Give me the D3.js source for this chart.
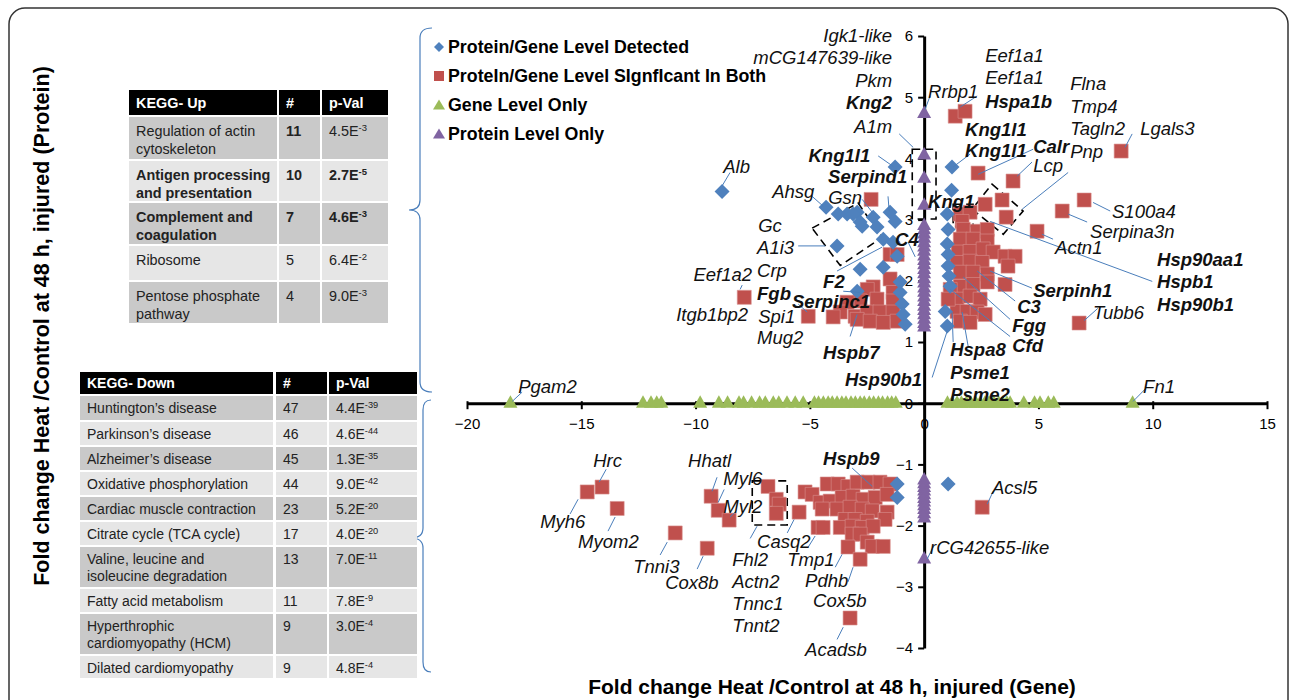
<!DOCTYPE html>
<html><head><meta charset="utf-8">
<script src="https://cdn.jsdelivr.net/npm/d3@7"></script>
<style>
body{margin:0;background:#fff}
svg{display:block}
text{font-family:"Liberation Sans",Arial,Helvetica,sans-serif}
</style>
</head><body>
<svg id="c" width="1295" height="700"></svg>
<script>
// ---------------- DATA ----------------
const seriesNames = ["Protein/Gene Level Detected","ProteIn/Gene Level SIgnfIcant In Both","Gene Level Only","Protein Level Only"];

// Protein/Gene level detected (x = gene FC, y = protein FC)
const detected = [[-8.84,3.46],[-4.29,3.20],[-1.27,3.86],[1.22,3.86],[1.20,3.48],[-3.37,3.09],[-2.93,3.12],[-2.71,2.89],[-2.23,3.04],[-2.06,2.88],[-1.49,3.12],[-1.27,2.97],[-1.79,2.68],[-3.76,3.09],[-3.11,3.09],[-2.80,2.96],[-3.81,2.57],[-1.36,2.63],[-2.80,2.19],[-1.79,2.22],[-1.18,2.40],[-2.93,1.83],[-1.05,1.98],[-1.05,1.81],[-0.96,1.62],[-0.92,1.45],[-0.83,1.29],[1.01,3.09],[1.05,2.84],[1.01,2.60],[1.05,2.43],[1.05,2.24],[1.09,2.08],[1.14,1.91],[0.92,1.50],[1.01,1.26],[-1.18,-1.32],[-1.18,-1.54],[1.05,-1.32]];

// Significant in both
const significant = [[1.36,4.69],[1.79,4.77],[2.36,3.76],[3.89,3.63],[8.62,4.12],[7.00,3.32],[6.04,3.14],[4.94,2.81],[6.78,1.31],[3.41,3.32],[2.67,3.25],[3.59,3.04],[1.58,3.09],[2.01,3.12],[1.66,2.97],[1.71,2.84],[2.32,2.81],[2.76,2.84],[1.58,2.68],[2.14,2.68],[2.76,2.65],[1.49,2.47],[2.01,2.48],[2.58,2.52],[3.02,2.47],[1.44,2.30],[2.01,2.32],[2.54,2.30],[3.54,2.40],[3.98,2.40],[3.67,2.24],[1.58,2.14],[2.14,2.14],[2.76,2.11],[1.58,1.91],[2.14,1.94],[2.76,1.98],[3.54,1.94],[1.14,1.86],[1.44,1.70],[2.01,1.75],[2.45,1.70],[1.44,1.50],[1.88,1.50],[2.32,1.49],[2.67,1.45],[1.58,1.34],[2.01,1.32],[1.05,1.70],
[-2.32,3.33],[-1.49,2.43],[-1.18,2.43],[-1.49,2.03],[-2.23,1.90],[-2.49,1.86],[-1.36,1.81],[-2.06,1.70],[-1.36,1.67],[-2.80,1.67],[-3.37,1.65],[-3.67,1.49],[-3.02,1.42],[-2.49,1.49],[-1.93,1.49],[-1.36,1.49],[-3.98,1.41],[-2.93,1.37],[-2.36,1.34],[-1.79,1.32],[-1.18,1.34],[-7.87,1.73],[-5.07,1.42],
[-14.74,-1.45],[-14.09,-1.37],[-13.43,-1.72],[-10.89,-2.12],[-9.49,-2.37],[-9.32,-1.52],[-9.01,-1.75],[-8.53,-1.91],[-6.83,-1.36],[-6.47,-1.57],[-6.34,-1.65],[-6.47,-1.80],[-5.47,-1.78],[-5.21,-1.45],[-4.90,-1.49],[-4.64,-2.03],[-4.24,-1.32],[-3.76,-1.32],[-3.33,-1.36],[-2.93,-1.29],[-2.45,-1.29],[-1.93,-1.29],[-1.49,-1.32],[-4.55,-1.62],[-4.11,-1.60],[-3.59,-1.54],[-3.11,-1.52],[-2.67,-1.57],[-2.14,-1.54],[-1.62,-1.49],[-4.46,-1.73],[-3.81,-1.73],[-3.24,-1.70],[-2.71,-1.73],[-2.27,-1.76],[-1.62,-1.78],[-3.46,-1.90],[-3.02,-1.90],[-2.49,-1.93],[-1.71,-1.90],[-4.42,-2.03],[-3.67,-2.03],[-3.15,-2.01],[-2.71,-2.03],[-2.23,-2.01],[-3.15,-2.14],[-2.80,-2.14],[-2.49,-2.27],[-2.27,-2.34],[-1.79,-2.34],[-3.33,-2.35],[-2.80,-2.55],[-3.24,-3.51],[2.54,-1.70]];

// Gene level only (protein FC = 0)
const geneOnly = [-18.1,-12.3,-11.95,-11.7,-11.5,-9.8,-8.98,-8.6,-8.1,-7.9,-7.55,-7.2,-6.95,-6.6,-6.36,-6.0,-5.64,-5.29,-4.8,-4.62,-4.41,-4.2,-4.02,-3.81,-3.6,-3.42,-3.2,-3.01,-2.8,-2.62,-2.4,-2.21,-2.0,-1.82,-1.6,-1.42,-1.24,1.02,1.22,1.44,1.63,1.85,2.04,2.26,2.45,2.66,2.84,3.05,3.26,3.44,3.62,3.76,4.36,4.83,5.07,5.43,5.67,9.12];

// Protein level only (gene FC = 0)
const proteinOnly = [4.75,4.07,3.69,3.25,2.92,2.85,2.78,2.71,2.64,2.57,2.5,2.42,2.35,2.28,2.2,2.13,2.05,1.98,1.9,1.83,1.75,1.68,1.6,1.53,1.46,1.39,1.32,1.26,-1.24,-1.3,-1.36,-1.42,-1.48,-1.54,-1.6,-1.66,-1.72,-1.79,-1.86,-2.53];

const xTicks = [-20,-15,-10,-5,0,5,10,15];
const yTicks = [-4,-3,-2,-1,0,1,2,3,4,5,6];

// KEGG tables
const upNames = ["Regulation of actin\ncytoskeleton","Antigen processing\nand presentation","Complement and\ncoagulation","Ribosome","Pentose phosphate\npathway"];
const upCounts = ["11","10","7","5","4"];
const upPval = [["4.5E","-3"],["2.7E","-5"],["4.6E","-3"],["6.4E","-2"],["9.0E","-3"]];
const upBold = [[false,true,false],[true,true,true],[true,true,true],[false,false,false],[false,false,false]];

const downNames = ["Huntington\u2019s disease","Parkinson\u2019s  disease","Alzheimer\u2019s disease","Oxidative phosphorylation","Cardiac muscle contraction","Citrate cycle (TCA cycle)","Valine, leucine and\nisoleucine degradation","Fatty acid metabolism","Hyperthrophic\ncardiomyopathy (HCM)","Dilated cardiomyopathy"];
const downCounts = ["47","46","45","44","23","17","13","11","9","9"];
const downPval = [["4.4E","-39"],["4.6E","-44"],["1.3E","-35"],["9.0E","-42"],["5.2E","-20"],["4.0E","-20"],["7.0E","-11"],["7.8E","-9"],["3.0E","-4"],["4.8E","-4"]];

// Point annotations: [text, x, y, anchor, bold]  (data coordinates)
const annotations = [
 ["Igk1-like",-1.40,6.01,"end",0],["mCG147639-like",-1.40,5.65,"end",0],["Pkm",-1.40,5.28,"end",0],["Kng2",-1.40,4.92,"end",1],["A1m",-1.40,4.53,"end",0],
 ["Kng1l1",-2.36,4.05,"end",1],["Serpind1",-0.74,3.71,"end",1],["Alb",-8.79,3.87,"start",0],["Ahsg",-6.65,3.46,"start",0],["Gsn",-4.20,3.37,"start",0],
 ["Kng1",0.17,3.30,"start",1],["Rrbp1",0.17,5.10,"start",0],["Eef1a1",2.67,5.69,"start",0],["Eef1a1",2.67,5.33,"start",0],["Hspa1b",2.67,4.93,"start",1],
 ["Kng1l1",1.79,4.48,"start",1],["Kng1l1",1.79,4.13,"start",1],["Flna",6.39,5.23,"start",0],["Tmp4",6.39,4.85,"start",0],["Tagln2",6.39,4.49,"start",0],["Pnp",6.39,4.12,"start",0],
 ["Lgals3",9.45,4.49,"start",0],["Calr",4.77,4.20,"start",1],["Lcp",4.77,3.89,"start",0],["S100a4",8.22,3.14,"start",0],["Serpina3n",7.26,2.81,"start",0],["Actn1",5.73,2.55,"start",0],
 ["Hsp90aa1",10.19,2.35,"start",1],["Hspb1",10.19,1.99,"start",1],["Hsp90b1",10.19,1.62,"start",1],["Serpinh1",4.77,1.85,"start",1],["C3",4.07,1.58,"start",1],["Fgg",3.85,1.27,"start",1],["Cfd",3.85,0.95,"start",1],
 ["Tubb6",7.39,1.49,"start",0],["Hspa8",1.14,0.88,"start",1],["Psme1",1.14,0.51,"start",1],["Psme2",1.14,0.15,"start",1],["Hsp90b1",-0.09,0.39,"end",1],
 ["Gc",-7.26,2.91,"start",0],["A1i3",-7.31,2.55,"start",0],["Crp",-7.31,2.17,"start",0],["Fgb",-7.31,1.80,"start",1],["Spi1",-7.26,1.42,"start",0],["Mug2",-7.31,1.08,"start",0],
 ["Eef1a2",-7.53,2.11,"end",0],["Itgb1bp2",-7.70,1.45,"end",0],["Serpinc1",-5.78,1.67,"start",1],["F2",-4.42,1.99,"start",1],["Hspb7",-4.42,0.83,"start",1],["C4",-1.27,2.68,"start",1],
 ["Pgam2",-17.76,0.28,"start",0],["Fn1",9.58,0.28,"start",0],
 ["Hrc",-14.48,-0.93,"start",0],["Myh6",-16.80,-1.93,"start",0],["Myom2",-15.14,-2.25,"start",0],["Tnni3",-12.73,-2.66,"start",0],["Cox8b",-11.33,-2.92,"start",0],
 ["Hhatl",-10.33,-0.93,"start",0],["Myl6",-8.79,-1.23,"start",0],["Myl2",-8.79,-1.68,"start",0],["Fhl2",-8.40,-2.55,"start",0],["Actn2",-8.40,-2.91,"start",0],["Tnnc1",-8.40,-3.27,"start",0],["Tnnt2",-8.40,-3.63,"start",0],
 ["Casq2",-7.31,-2.25,"start",0],["Tmp1",-5.99,-2.55,"start",0],["Pdhb",-5.21,-2.89,"start",0],["Cox5b",-4.86,-3.22,"start",0],["Acadsb",-5.21,-4.02,"start",0],
 ["Hspb9",-4.42,-0.90,"start",1],["Acsl5",2.97,-1.37,"start",0],["rCG42655-like",0.26,-2.35,"start",0]
];

// Leader lines [x1,y1,x2,y2] (data coordinates)
const leaders = [
 [-1.09,4.40,-0.48,4.18],[-2.01,4.04,-1.36,3.87],[-8.49,3.77,-8.84,3.55],[-4.90,3.38,-4.42,3.22],[-2.71,3.33,-2.23,3.10],[-1.58,3.38,-1.53,3.14],
 [0.26,5.02,0.04,4.80],[2.32,5.02,1.58,4.84],[2.01,4.07,1.27,3.86],[4.77,4.15,2.36,3.74],[4.72,3.94,4.07,3.71],[6.30,3.77,4.29,3.17],[9.10,4.40,8.79,4.18],
 [8.14,3.14,7.39,3.28],[7.13,2.96,6.30,3.09],[5.64,2.68,5.16,2.76],[9.98,1.99,2.89,2.97],[4.72,1.88,2.89,2.16],[3.98,1.67,2.32,2.16],[3.76,1.37,1.71,2.06],[3.76,1.09,1.14,1.86],
 [1.93,0.92,1.66,1.49],[1.27,1.00,1.22,1.50],[0.35,0.42,1.01,1.18],[-0.70,2.63,-0.39,2.39],[-3.81,2.16,-1.84,2.55],[-3.54,1.83,-2.80,1.81],[-5.51,1.62,-5.12,1.49],
 [-3.24,1.09,-2.93,1.45],[-5.51,2.57,-4.33,2.57],[-7.96,1.93,-8.05,1.86],[-17.59,0.18,-18.02,0.03],[9.67,0.23,9.14,0.03],[7.60,1.55,7.00,1.35],
 [-13.91,-1.08,-14.22,-1.29],[-15.14,-1.57,-15.49,-1.81],[-13.52,-1.86,-13.83,-2.09],[-11.24,-2.27,-11.55,-2.48],[-9.67,-2.50,-9.93,-2.71],[-9.06,-1.21,-9.28,-1.44],
 [-8.75,-1.41,-9.01,-1.62],[-8.22,-1.76,-8.49,-1.86],[-7.31,-2.01,-7.61,-2.21],[-5.69,-1.90,-5.99,-2.12],[-4.77,-2.17,-5.07,-2.35],[-3.59,-2.47,-3.89,-2.68],
 [-3.11,-2.68,-3.33,-2.92],[-3.54,-3.66,-3.81,-3.86],[-3.15,-1.06,-2.27,-1.36],[3.02,-1.44,2.76,-1.65],[0.39,-2.35,0.13,-2.55]
];

// Dashed highlight outlines (data coordinates, closed polygons)
const dashedShapes = [
 [[-4.90,2.86],[-2.89,3.27],[-1.84,2.71],[-3.67,2.25]],
 [[-0.52,4.15],[0.52,4.15],[0.52,3.01],[-0.52,3.01]],
 [[1.27,3.25],[2.14,3.25],[2.14,2.89],[1.27,2.89]],
 [[2.97,3.58],[4.33,3.14],[3.46,2.76],[2.10,3.17]],
 [[-7.52,-1.27],[-5.99,-1.27],[-5.99,-1.99],[-7.52,-1.99]]
];

// ---------------- DRAW ----------------
const svg = d3.select("#c");
const FONT = '"Liberation Sans",Arial,sans-serif';
const C = {blue:"#4f81bd", red:"#c0504d", green:"#9bbb59", purple:"#8064a2", lead:"#4a7ebb"};

// frame
svg.append("rect").attr("x",9).attr("y",8).attr("width",1279).attr("height",720).attr("rx",16)
  .attr("fill","none").attr("stroke","#333").attr("stroke-width",1.5);

const x = d3.scaleLinear().domain([-20,15]).range([467,1267]);
const y = d3.scaleLinear().domain([-4,6]).range([648,36]);

// marker paths
const sym = {
  diamond: "M0,-7.5L7.5,0L0,7.5L-7.5,0Z",
  square: "M-7,-7H7V7H-7Z",
  tri: "M0,-7L7,5.5L-7,5.5Z"
};

// dashed shapes
svg.append("g").selectAll("path").data(dashedShapes).join("path")
  .attr("d", d => d3.line().x(p=>x(p[0])).y(p=>y(p[1]))(d) + "Z")
  .attr("fill","none").attr("stroke","#000").attr("stroke-width",1.6).attr("stroke-dasharray","8,5");

// series
const g = svg.append("g");
g.selectAll(".sig").data(significant).join("path").attr("class","sig")
  .attr("transform", d=>`translate(${x(d[0])},${y(d[1])})`).attr("d",sym.square)
  .attr("fill",C.red).attr("stroke","#d9908e").attr("stroke-width",0.6);
g.selectAll(".det").data(detected).join("path").attr("class","det")
  .attr("transform", d=>`translate(${x(d[0])},${y(d[1])})`).attr("d",sym.diamond).attr("fill",C.blue);

// axes
const xAxis = d3.axisBottom(x).tickValues(xTicks).tickSizeInner(6).tickSizeOuter(0).tickPadding(9);
const gx = svg.append("g").attr("transform",`translate(0,${y(0)})`).call(xAxis);
gx.select(".domain").attr("stroke","#000").attr("stroke-width",3);
gx.selectAll(".tick line").attr("stroke","#000").attr("stroke-width",2).attr("y1",-2);
gx.selectAll(".tick text").attr("font-size",15).attr("font-family",FONT).attr("fill","#000");

const yAxis = d3.axisLeft(y).tickValues(yTicks).tickSizeInner(6).tickSizeOuter(0).tickPadding(5);
const gy = svg.append("g").attr("transform",`translate(${x(0)},0)`).call(yAxis);
gy.select(".domain").attr("stroke","#000").attr("stroke-width",3);
gy.selectAll(".tick line").attr("stroke","#000").attr("stroke-width",2);
gy.selectAll(".tick text").attr("font-size",15).attr("font-family",FONT).attr("fill","#000");

g.raise();
g.selectAll(".gene").data(geneOnly).join("path").attr("class","gene")
  .attr("transform", d=>`translate(${x(d)},${y(0)-1})`).attr("d",sym.tri).attr("fill",C.green);
g.selectAll(".prot").data(proteinOnly).join("path").attr("class","prot")
  .attr("transform", d=>`translate(${x(0)},${y(d)})`).attr("d",sym.tri).attr("fill",C.purple);

// leader lines
svg.append("g").selectAll("line").data(leaders).join("line")
  .attr("x1",d=>x(d[0])).attr("y1",d=>y(d[1])).attr("x2",d=>x(d[2])).attr("y2",d=>y(d[3]))
  .attr("stroke",C.lead).attr("stroke-width",1);

// annotations
svg.append("g").selectAll("text").data(annotations).join("text")
  .attr("x",d=>x(d[1])).attr("y",d=>y(d[2])).attr("dy","0.36em")
  .attr("text-anchor",d=>d[3]).attr("font-style","italic").attr("font-weight",d=>d[4]?"bold":"normal")
  .attr("font-size",18.5).attr("fill","#111").text(d=>d[0]);

// legend
const legCols = [C.blue,C.red,C.green,C.purple];
const lg = svg.append("g").selectAll("g").data(seriesNames).join("g")
  .attr("transform",(d,i)=>`translate(439,${47+i*29})`);
lg.append("path").attr("d",(d,i)=> i===0? "M0,-5L5,0L0,5L-5,0Z" : i===1? "M-5,-5H5V5H-5Z" : "M0,-5.5L6,4.5L-6,4.5Z")
  .attr("fill",(d,i)=>legCols[i]);
lg.append("text").attr("x",9).attr("dy","0.36em").attr("font-size",17.8).attr("font-weight","bold").attr("fill","#000").text(d=>d);

// axis titles
svg.append("text").attr("x",832).attr("y",694).attr("text-anchor","middle").attr("font-size",21).attr("font-weight","bold")
  .text("Fold change Heat /Control at 48 h, injured (Gene)");
svg.append("text").attr("transform","translate(49,326) rotate(-90)").attr("text-anchor","middle").attr("font-size",21.5).attr("font-weight","bold")
  .text("Fold change Heat /Control at 48 h, injured (Protein)");

// braces
svg.append("path").attr("d","M432,28 Q420,28 420,38 L420,200 Q420,210 409,210 Q420,210 420,220 L420,382 Q420,392 432,392")
  .attr("fill","none").attr("stroke",C.lead).attr("stroke-width",1.2);
svg.append("path").attr("d","M431,400 Q423,400 423,410 L423,528 Q423,538 411,538 Q423,538 423,548 L423,662 Q423,672 431,672")
  .attr("fill","none").attr("stroke",C.lead).attr("stroke-width",1.2);

// tables
function drawTable(cfg){
  const t = svg.append("g");
  const cols = cfg.cols;
  cols.forEach(c=>{
    t.append("rect").attr("x",c[0]).attr("y",cfg.top).attr("width",c[1]-c[0]).attr("height",cfg.headH).attr("fill","#000");
  });
  const hdr = [cfg.title,"#","p-Val"];
  hdr.forEach((h,i)=>{
    t.append("text").attr("x",cols[i][0]+cfg.pad).attr("y",cfg.top+cfg.headH/2).attr("dy","0.36em")
      .attr("font-size",cfg.fs).attr("font-weight","bold").attr("fill","#fff").text(h);
  });
  let yy = cfg.top + cfg.headH + 2;
  cfg.names.forEach((nm,r)=>{
    const h = cfg.rowH[r];
    const fill = r%2===0 ? "#c9c9c9" : "#e6e6e6";
    cols.forEach(c=> t.append("rect").attr("x",c[0]).attr("y",yy).attr("width",c[1]-c[0]).attr("height",h).attr("fill",fill));
    const b = cfg.bold ? cfg.bold[r] : [false,false,false];
    const ty = yy + cfg.textTop;
    const lines = nm.split("\n");
    const tn = t.append("text").attr("x",cols[0][0]+cfg.pad).attr("y",ty).attr("font-size",cfg.fs)
      .attr("font-weight",b[0]?"bold":"normal").attr("fill","#222");
    lines.forEach((ln,k)=> tn.append("tspan").attr("x",cols[0][0]+cfg.pad).attr("dy",k===0?0:cfg.lh).text(ln));
    t.append("text").attr("x",cols[1][0]+cfg.pad).attr("y",ty).attr("font-size",cfg.fs)
      .attr("font-weight",b[1]?"bold":"normal").attr("fill","#222").text(cfg.counts[r]);
    const tp = t.append("text").attr("x",cols[2][0]+cfg.pad).attr("y",ty).attr("font-size",cfg.fs)
      .attr("font-weight",b[2]?"bold":"normal").attr("fill","#222");
    tp.append("tspan").text(cfg.pvals[r][0]);
    tp.append("tspan").attr("dy",-5).attr("font-size",cfg.fs*0.66).text(cfg.pvals[r][1]);
    yy += h + 2;
  });
}
drawTable({title:"KEGG- Up", top:90, headH:25, cols:[[129,277],[279,320],[322,388]], pad:7, fs:14.4, lh:18, textTop:19,
  names:upNames, counts:upCounts, pvals:upPval, bold:upBold, rowH:[42,40,41,34,41]});
drawTable({title:"KEGG- Down", top:372, headH:22, cols:[[80,273],[276,327],[329,417]], pad:7, fs:14, lh:17, textTop:17,
  names:downNames, counts:downCounts, pvals:downPval, rowH:[24,23,23,23,23,23,40,23,40,22]});
</script>
</body></html>
